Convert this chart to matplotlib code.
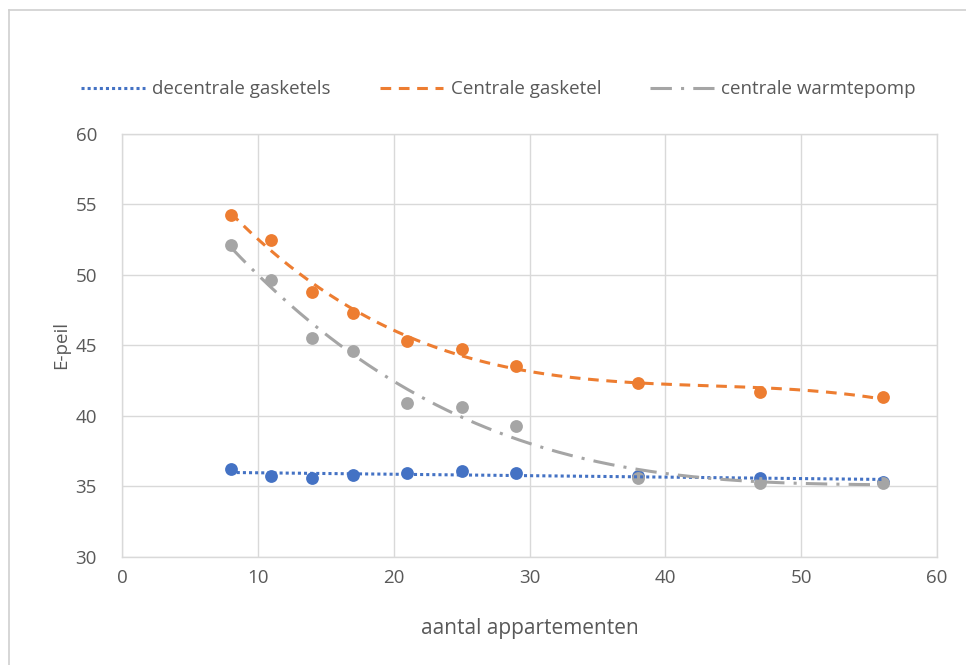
import numpy as np
import matplotlib
matplotlib.use("Agg")
from matplotlib import pyplot as plt
from matplotlib.lines import Line2D

# aantal appartementen vs E-peil
apartments = [8, 11, 14, 17, 21, 25, 29, 38, 47, 56]
decentral_boilers = [36.2, 35.7, 35.55, 35.8, 35.95, 36.05, 35.95, 35.7, 35.6, 35.3]
central_boiler = [54.25, 52.5, 48.8, 47.3, 45.3, 44.75, 43.55, 42.35, 41.7, 41.3]
central_heatpump = [52.1, 49.65, 45.55, 44.6, 40.9, 40.6, 39.3, 35.55, 35.25, 35.2]

labels = ["decentrale gasketels", "Centrale gasketel", "centrale warmtepomp"]
x_ticks = [0, 10, 20, 30, 40, 50, 60]
y_ticks = [30, 35, 40, 45, 50, 55, 60]

BLUE = "#4472C4"
ORANGE = "#ED7D31"
GRAY = "#A5A5A5"
TXT = "#595959"
GRID = "#D9D9D9"

plt.rcParams['font.family'] = ['Open Sans', 'DejaVu Sans']

fig = plt.figure(figsize=(9.66, 6.65), dpi=100)
ax = fig.add_axes([0.1263, 0.163, 0.8437, 0.6355])

x = np.array(apartments, dtype=float)
series = [
    (decentral_boilers, BLUE, 1, (0, (1, 1))),
    (central_boiler, ORANGE, 3, (0, (3.5, 2.5))),
    (central_heatpump, GRAY, 3, (0, (7, 3, 1, 3))),
]

# markers
for vals, col, _, _ in series:
    ax.scatter(x, vals, s=85, color=col, zorder=3, linewidths=0)

# trendlines (polynomial fit, as in the Excel chart)
xs = np.linspace(x.min(), x.max(), 200)
for vals, col, deg, ls in series:
    coef = np.polyfit(x, vals, deg)
    ax.plot(xs, np.polyval(coef, xs), color=col, lw=2.2, linestyle=ls, zorder=4)

ax.set_xlim(0, 60)
ax.set_ylim(30, 60)
ax.set_xticks(x_ticks)
ax.set_yticks(y_ticks)
ax.grid(True, color=GRID, lw=1)
ax.set_axisbelow(True)
for s in ax.spines.values():
    s.set_color(GRID)
    s.set_linewidth(1)
ax.tick_params(length=0, labelsize=13.5, colors=TXT)
ax.tick_params(axis="y", pad=18)
ax.tick_params(axis="x", pad=9)
ax.set_xlabel("aantal appartementen", fontsize=15, color=TXT)
ax.set_ylabel("E-peil", fontsize=13.5, color=TXT)
ax.xaxis.set_label_coords(0.5, -0.169)
ax.yaxis.set_label_coords(-0.075, 0.5)
ax.xaxis.label.set_va("center")
ax.yaxis.label.set_va("center")

handles = [Line2D([], [], color=c, lw=2.2, linestyle=ls) for _, c, _, ls in series]
fig.legend(handles, labels, loc="center", bbox_to_anchor=(0.516, 0.866), ncol=3,
           frameon=False, fontsize=13.5, handlelength=3.4, columnspacing=2.6,
           handletextpad=0.4, labelcolor=TXT)

# chart area border (only top/left visible in the crop)
fig.add_artist(Line2D([0.0093, 0.0093], [0, 0.985], color="#D0D0D0", lw=1.2,
                      transform=fig.transFigure))
fig.add_artist(Line2D([0.0093, 1], [0.985, 0.985], color="#D0D0D0", lw=1.2,
                      transform=fig.transFigure))

fig.savefig("out.png", dpi=100)
